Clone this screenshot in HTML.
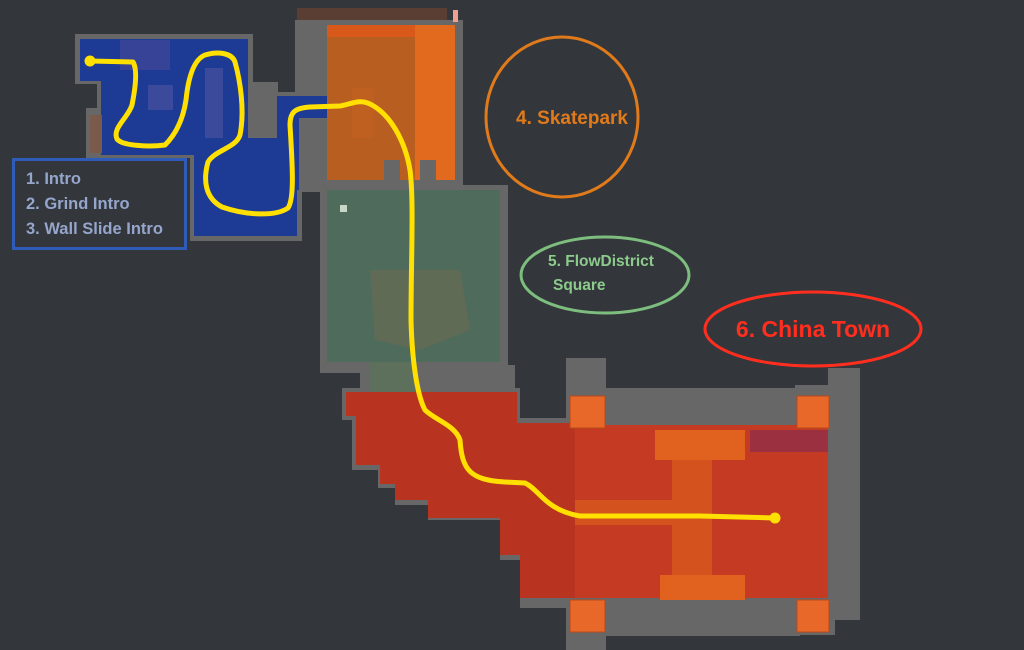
<!DOCTYPE html>
<html><head><meta charset="utf-8"><style>
html,body{margin:0;padding:0;background:#33373b;}
svg{display:block}
text{font-family:"Liberation Sans",sans-serif;font-weight:bold}
</style></head><body>
<svg width="1024" height="650" viewBox="0 0 1024 650" xmlns="http://www.w3.org/2000/svg">
<rect width="1024" height="650" fill="#33373b"/>
<g fill="#676767">
<rect x="75" y="34" width="178" height="50"/>
<rect x="86" y="108" width="20" height="50"/>
<rect x="97" y="80" width="156" height="78"/>
<rect x="190" y="135" width="112" height="106"/>
<rect x="222" y="82" width="56" height="110"/>
<rect x="276" y="92" width="55" height="100"/>
<rect x="295" y="20" width="168" height="170"/>
<rect x="320" y="185" width="188" height="188"/>
<rect x="360" y="365" width="155" height="30"/>
<polygon points="342,388 520,388 520,418 575,418 575,608 520,608 520,560 500,560 500,520 428,520 428,505 395,505 395,488 378,488 378,470 352,470 352,420 342,420"/>
<rect x="566" y="358" width="40" height="292"/>
<rect x="600" y="388" width="200" height="40"/>
<rect x="600" y="596" width="200" height="40"/>
<rect x="795" y="385" width="40" height="250"/>
<rect x="828" y="368" width="32" height="252"/>
</g>
<g fill="#1d3a94">
<rect x="80" y="39" width="168" height="42"/>
<rect x="101" y="78" width="147" height="77"/>
<rect x="194" y="138" width="103" height="98"/>
<rect x="277" y="96" width="50" height="22"/>
<rect x="277" y="118" width="22" height="72"/>
</g>
<rect x="90" y="115" width="12" height="38" fill="#7a5a4a"/>
<rect x="120" y="40" width="50" height="30" fill="#4a4a9a" opacity=".6"/>
<rect x="148" y="85" width="25" height="25" fill="#5a5aa0" opacity=".5"/>
<rect x="205" y="68" width="18" height="70" fill="#5a5aa0" opacity=".5"/>
<rect x="297" y="8" width="150" height="12" fill="#5a3d33"/>
<rect x="453" y="10" width="5" height="12" fill="#f0a090"/>
<rect x="327" y="25" width="128" height="155" fill="#b85e20"/>
<rect x="327" y="25" width="128" height="12" fill="#d8591a"/>
<rect x="415" y="25" width="40" height="155" fill="#e26a1e"/>
<rect x="352" y="88" width="22" height="50" fill="#c06020"/>
<rect x="384" y="160" width="16" height="25" fill="#676767"/>
<rect x="420" y="160" width="16" height="25" fill="#676767"/>
<rect x="327" y="190" width="173" height="172" fill="#4e6b5c"/>
<rect x="340" y="205" width="7" height="7" fill="#c8d8c8"/>
<rect x="370" y="362" width="45" height="30" fill="#5d705c"/>
<polygon points="370,270 460,270 470,330 420,350 375,340" fill="#6c6a52" opacity=".6"/>
<polygon fill="#b83420" points="346,392 517,392 517,423 575,423 575,598 520,598 520,555 500,555 500,518 428,518 428,500 395,500 395,484 380,484 380,465 356,465 356,416 346,416"/>
<rect x="575" y="425" width="253" height="173" fill="#c43a22"/>
<rect x="655" y="430" width="90" height="30" fill="#e0621e"/>
<rect x="660" y="575" width="85" height="25" fill="#e0621e"/>
<rect x="672" y="460" width="40" height="115" fill="#d4521e"/>
<rect x="575" y="500" width="100" height="25" fill="#d4521e"/>
<rect x="750" y="430" width="78" height="22" fill="#9a3040"/>
<g fill="#e8682a" stroke="#b84a18" stroke-width="1">
<rect x="570" y="396" width="35" height="32"/>
<rect x="797" y="396" width="32" height="32"/>
<rect x="570" y="600" width="35" height="32"/>
<rect x="797" y="600" width="32" height="32"/>
</g>
<path d="M90,61 L133,62 C138,70 135,90 132,105 C128,118 112,128 117,139 C122,146 150,147 165,145 C175,135 183,120 186,100 C188,80 193,60 205,55 C218,51 232,53 235,62 C240,80 245,110 240,135 C236,148 215,150 208,162 C203,180 205,198 222,207 C245,215 275,217 288,208 C295,198 292,160 290,125 C290,112 295,108 310,107 L340,106 C352,104 360,98 372,105 C390,115 405,140 410,170 C414,200 411,260 411,320 C412,360 417,395 425,410 C435,420 455,425 460,440 C462,470 470,480 505,482 L525,483 C540,490 545,510 580,516 L700,516 L775,518" fill="none" stroke="#ffe000" stroke-width="5" stroke-linecap="round" stroke-linejoin="round"/>
<circle cx="90" cy="61" r="5.5" fill="#ffe000"/>
<circle cx="775" cy="518" r="5.5" fill="#ffe000"/>
<rect x="13.5" y="159.5" width="172" height="89" fill="#33373b" stroke="#2f5cb8" stroke-width="3"/>
<text x="26" y="184" font-size="16.5" fill="#95a5cc">1. Intro</text>
<text x="26" y="209" font-size="16.5" fill="#95a5cc">2. Grind Intro</text>
<text x="26" y="234" font-size="16.5" fill="#95a5cc">3. Wall Slide Intro</text>
<ellipse cx="562" cy="117" rx="76" ry="80" fill="none" stroke="#e07a1a" stroke-width="3"/>
<text x="572" y="124" font-size="19" fill="#e07a1a" text-anchor="middle">4. Skatepark</text>
<ellipse cx="605" cy="275" rx="84" ry="38" fill="none" stroke="#7dbd7d" stroke-width="3"/>
<text x="548" y="266" font-size="15.5" fill="#8ccb8c">5. FlowDistrict</text>
<text x="553" y="290" font-size="15.5" fill="#8ccb8c">Square</text>
<ellipse cx="813" cy="329" rx="108" ry="37" fill="none" stroke="#ff2e1e" stroke-width="3"/>
<text x="813" y="337" font-size="23" fill="#ff2e1e" text-anchor="middle">6. China Town</text>
</svg>
</body></html>
